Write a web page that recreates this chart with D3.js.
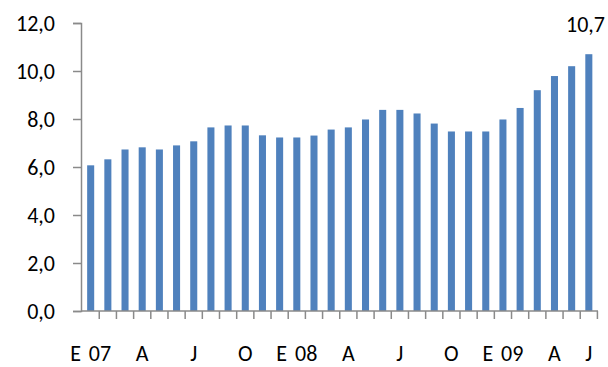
<!DOCTYPE html>
<html>
<head>
<meta charset="utf-8">
<script src="https://cdn.jsdelivr.net/npm/d3@7/dist/d3.min.js"></script>
<style>
  html, body { margin: 0; padding: 0; background: #fff; }
  svg { display: block; }
  text { font-family: Carlito, Lato, "Liberation Sans", sans-serif; fill: #000; }
</style>
</head>
<body>
<svg id="chart" width="608" height="367"></svg>
<script>
// Monthly series, Jan 2007 – Jun 2009
const months = d3.range(30).map(i => "m" + i);
const values = [6.07, 6.32, 6.73, 6.82, 6.73, 6.90, 7.07, 7.65, 7.73, 7.73,
                7.32, 7.23, 7.23, 7.31, 7.56, 7.65, 7.98, 8.38, 8.38, 8.23,
                7.81, 7.48, 7.48, 7.48, 7.98, 8.46, 9.20, 9.79, 10.20, 10.7];
// Category labels shown under the axis (by month index)
const labelIndex = [0, 3, 6, 9, 12, 15, 18, 21, 24, 27, 29];
const labelText  = ["E 07", "A", "J", "O", "E 08", "A", "J", "O", "E 09", "A", "J"];
const yTicks = [0, 2, 4, 6, 8, 10, 12];

const W = 608, H = 367;
const plotLeft = 81, plotRight = 598, plotTop = 23, plotBottom = 311;

const svg = d3.select("#chart");
const fmt = v => d3.format(".1f")(v).replace(".", ",");

const x = d3.scaleBand().domain(months).range([plotLeft + 1, plotRight - 0.5]).paddingInner(0.59).paddingOuter(0.3);
const y = d3.scaleLinear().domain([0, 12]).range([plotBottom, plotTop]);

// Bars
svg.append("g").selectAll("rect")
  .data(values)
  .join("rect")
  .attr("x", (d, i) => x(months[i]))
  .attr("width", x.bandwidth())
  .attr("y", d => y(d))
  .attr("height", d => y(0) - y(d))
  .attr("fill", "#4F81BD");

const axisColor = "#8a8a8a";

// Y axis
const yAxis = svg.append("g").attr("transform", `translate(${plotLeft},0)`)
  .call(d3.axisLeft(y).tickValues(yTicks).tickSize(8).tickPadding(18).tickFormat(fmt));
yAxis.select(".domain").attr("stroke", axisColor).attr("stroke-width", 1.5);
yAxis.selectAll(".tick line").attr("stroke", axisColor).attr("stroke-width", 1.5);
yAxis.selectAll(".tick text").attr("font-size", 22).attr("fill", "#000");

// X axis: baseline with tick marks at month boundaries
const step = x.step();
const xAxis = svg.append("g");
xAxis.append("line")
  .attr("x1", plotLeft).attr("x2", plotRight)
  .attr("y1", plotBottom).attr("y2", plotBottom)
  .attr("stroke", axisColor).attr("stroke-width", 1.5);
xAxis.selectAll("line.tk")
  .data(d3.range(1, months.length + 1))
  .join("line")
  .attr("class", "tk")
  .attr("x1", i => Math.min(plotRight, x(months[i - 1]) + x.bandwidth() / 2 + step / 2))
  .attr("x2", i => Math.min(plotRight, x(months[i - 1]) + x.bandwidth() / 2 + step / 2))
  .attr("y1", plotBottom).attr("y2", plotBottom + 8)
  .attr("stroke", axisColor).attr("stroke-width", 1.5);

xAxis.selectAll("text")
  .data(labelIndex)
  .join("text")
  .attr("x", d => x(months[d]) + x.bandwidth() / 2)
  .attr("y", 361)
  .attr("text-anchor", "middle")
  .attr("font-size", 22)
  .attr("word-spacing", 3)
  .text((d, k) => labelText[k]);

// Value label on the latest month
const last = values.length - 1;
const lbl = svg.append("text")
  .attr("x", x(months[last]) + x.bandwidth() / 2)
  .attr("y", y(values[last]) - 22)
  .attr("text-anchor", "middle")
  .attr("font-size", 22)
  .text(fmt(values[last]));
const bb = lbl.node().getBBox();
if (bb.x + bb.width > W - 3) lbl.attr("x", +lbl.attr("x") - (bb.x + bb.width - (W - 3)));
</script>
</body>
</html>
